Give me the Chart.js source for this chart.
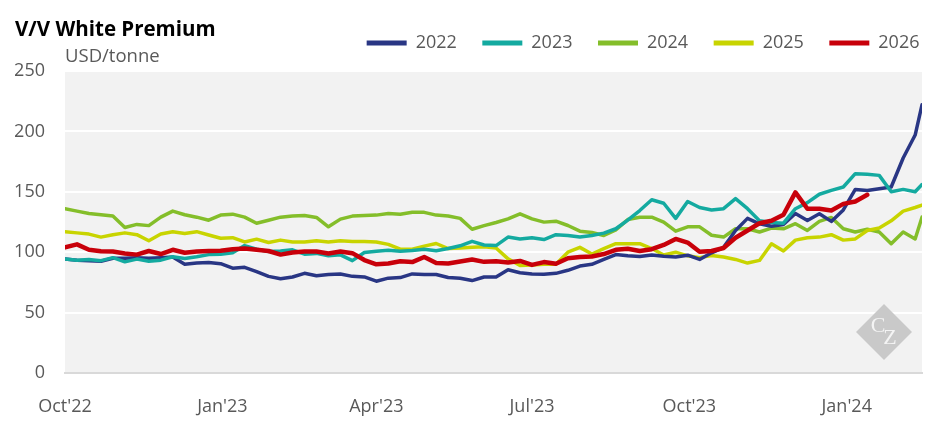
<!DOCTYPE html>
<html><head><meta charset="utf-8">
<script src="https://cdn.jsdelivr.net/npm/chart.js@4.4.1/dist/chart.umd.min.js"></script>
<style>html,body{margin:0;padding:0;background:#fff;}#wrap{width:945px;height:442px;}</style>
</head><body><div id="wrap"><canvas id="c" width="945" height="442"></canvas></div>
<script>
// Days since 1 Oct 2022 (weekly readings)
const days = [0,7,14,21,28,35,42,49,56,63,70,77,84,91,98,105,112,119,126,
  133,140,147,154,161,168,175,182,189,196,203,210,217,224,231,238,245,
  252,259,266,273,280,287,294,301,308,315,322,329,336,343,350,357,364,371,
  378,385,392,399,406,413,420,427,434,441,448,455,462,469,476,483,490,497,501];
const tickDays = [0, 92, 182, 273, 365, 457];
const tickLabels = ["Oct'22", "Jan'23", "Apr'23", "Jul'23", "Oct'23", "Jan'24"];
const seriesNames = ['2022', '2023', '2024', '2025', '2026'];

const s2022 = [94.3, 93.4, 93, 92.5, 95, 95, 95.5, 95, 95.5, 96, 90, 91, 91.5, 90.5, 86.8, 87.5, 84, 80, 78,
  79.5, 82.5, 80.5, 81.5, 82, 80, 79.5, 76, 78.5, 79, 82, 81.5, 81.5, 79, 78.5, 76.5, 79.5,
  79.5, 85.5, 83, 82, 81.8, 82.5, 85, 88.5, 90, 94, 98, 97, 96.5, 97.7, 96.6, 96, 97.5, 94,
  99.5, 104, 118, 128, 123.5, 121.5, 123, 132, 126.3, 131.8, 125.5, 135, 152, 151, 152.5, 154, 178, 197, 222];
const s2023 = [94.3, 93.4, 94, 93, 95.5, 92, 94.3, 92.5, 93.4, 96.2, 94.8, 96.2, 98, 98.3, 99.5, 105.5, 102.5, 100.5, 101,
  102, 98.4, 99, 97, 97.8, 93, 99.8, 100.8, 101.7, 100.8, 101.5, 102.5, 101.2, 103, 105.3, 109, 106,
  105.5, 112.5, 111, 112, 110.5, 114.5, 113.9, 112.5, 113.9, 115.8, 119.4, 126.5, 134.5, 143.4, 140.5, 128, 142, 137,
  135, 136, 144.3, 136, 126, 124.5, 124, 136, 141, 148, 151.2, 154, 165, 164.5, 163.6, 150, 152, 150, 156];
const s2024 = [136, 134, 132, 131, 130, 120.5, 123, 122, 129, 134, 131, 129, 126.5, 130.7, 131.5, 129, 124, 126.5, 129,
  130, 130.4, 128.8, 121, 127.4, 129.9, 130.4, 130.7, 132, 131.5, 133, 133, 130.7, 130, 128, 119, 122,
  124.6, 127.6, 131.8, 127.6, 124.9, 125.7, 122.1, 117.4, 116.3, 113.8, 118.5, 127, 129, 129, 124.9, 117.4, 121, 121,
  114, 112.5, 119.4, 119.4, 116.7, 120, 119.4, 123.6, 118, 125.5, 128.8, 119.4, 116.7, 119, 116.7, 107, 116.7, 111, 129];
const s2025 = [117, 116, 115, 112.5, 114.5, 116, 114.5, 109.5, 115, 117, 115.5, 117, 114.2, 111.6, 112, 108.5, 110.8, 108, 110,
  108.5, 108.5, 109.4, 108.5, 109.4, 108.9, 108.9, 108.5, 106.5, 102.5, 102.5, 105, 107.2, 103, 103.4, 104, 104.5,
  103.5, 94.5, 89, 89.5, 90, 90, 100, 104, 98.5, 103, 107, 107, 107, 103, 97.7, 100, 97, 95.5,
  97.3, 96, 94, 91, 93.2, 107, 101, 110, 112, 112.5, 114.5, 110, 111, 118, 120, 126, 134, 137, 139];
const s2026 = [104, 106.5, 102, 100.8, 100.5, 99, 98, 101, 98.5, 102, 99.5, 100.6, 101, 101.2, 102.5, 103, 102, 101, 98,
  99.8, 100.6, 100.5, 99, 100.5, 99.2, 93.5, 90, 90.7, 92.5, 91.8, 96, 91, 90.7, 92.3, 94, 92,
  92.5, 91.5, 92.8, 89.5, 91.8, 90.5, 95, 96, 96.5, 98.5, 102, 102.8, 101, 102.5, 106, 111, 108, 100.4,
  101, 103.5, 112, 118, 124, 126, 131, 149.5, 136, 136, 134.6, 140, 142, 147.5, null, null, null, null, null];

const seriesData = [s2022, s2023, s2024, s2025, s2026];
const colors = ['#293684', '#14aaa0', '#84be2a', '#c8d400', '#c8000a'];
const widths = [3.5, 3.5, 3.5, 3.5, 4.5];
const drawOrder = [2, 1, 4, 3, 0];

const FONT = "'Open Sans', 'Noto Sans', sans-serif";

const plotBg = {
  id: 'plotBg',
  beforeDraw(chart) {
    const {ctx, chartArea: a} = chart;
    ctx.save();
    ctx.fillStyle = '#f2f2f2';
    ctx.fillRect(a.left, a.top, a.right - a.left, a.bottom - a.top);
    ctx.restore();
  }
};
const watermark = {
  id: 'watermark',
  beforeDatasetsDraw(chart) {
    const {ctx, chartArea: a} = chart;
    const cx = a.right - 38, cy = a.bottom - 41, r = 28;
    ctx.save();
    ctx.fillStyle = '#c9c9c9';
    ctx.beginPath();
    ctx.moveTo(cx, cy - r); ctx.lineTo(cx + r, cy); ctx.lineTo(cx, cy + r); ctx.lineTo(cx - r, cy);
    ctx.closePath(); ctx.fill();
    ctx.fillStyle = '#f4f4f4';
    ctx.font = "22px 'Liberation Serif', serif";
    ctx.textAlign = 'center'; ctx.textBaseline = 'middle';
    ctx.fillText('C', cx - 6, cy - 6);
    ctx.fillText('Z', cx + 6, cy + 6);
    ctx.restore();
  }
};

new Chart(document.getElementById('c'), {
  type: 'line',
  data: {
    labels: days,
    datasets: seriesNames.map((name, k) => ({
      label: name,
      data: seriesData[k],
      borderColor: colors[k],
      backgroundColor: colors[k],
      borderWidth: widths[k],
      pointRadius: 0,
      pointHoverRadius: 0,
      tension: 0,
      borderJoinStyle: 'round',
      borderCapStyle: 'round',
      spanGaps: false,
      order: drawOrder[k]
    }))
  },
  options: {
    responsive: false,
    animation: false,
    devicePixelRatio: 1,
    layout: { padding: { left: 15, right: 0, top: 0, bottom: 0 } },
    plugins: {
      tooltip: { enabled: false },
      title: {
        display: true, text: 'V/V White Premium', align: 'start', color: '#000000',
        font: { family: FONT, size: 20.5, weight: 'bold' },
        padding: { top: 17.7, bottom: -33.8 }
      },
      legend: {
        display: true, position: 'top', align: 'end', weight: 1000,
        labels: {
          boxWidth: 40, boxHeight: 5, padding: 25.5, color: '#595959',
          font: { family: FONT, size: 18 },
          sort: (a, b) => a.datasetIndex - b.datasetIndex,
          generateLabels: (chart) => Chart.defaults.plugins.legend.labels.generateLabels(chart)
            .map(l => Object.assign(l, { lineWidth: 0 }))
        }
      },
      subtitle: {
        display: true, text: 'USD/tonne', align: 'start', fullSize: false, weight: 500,
        color: '#595959', font: { family: FONT, size: 18.5 },
        padding: { top: -16.3, bottom: 3.1 }
      }
    },
    scales: {
      x: {
        type: 'linear', min: 0, max: 501,
        grid: { display: false },
        border: { display: true, color: '#d9d9d9', width: 2 },
        ticks: {
          padding: 15, color: '#595959', font: { family: FONT, size: 18 },
          maxRotation: 0, autoSkip: false,
          callback: (v, i) => tickLabels[i]
        },
        afterBuildTicks: (s) => { s.ticks = tickDays.map(v => ({ value: v })); },
        afterFit: (s) => { s.height = 69; }
      },
      y: {
        min: 0, max: 250,
        ticks: { stepSize: 50, padding: 20, color: '#595959', font: { family: FONT, size: 18 } },
        grid: { color: '#ffffff', lineWidth: 2, drawTicks: false },
        border: { display: false },
        afterFit: (s) => { s.width = 50; }
      },
      y2: {
        position: 'right', display: true,
        grid: { display: false }, ticks: { display: false }, border: { display: false },
        afterFit: (s) => { s.width = 23; }
      }
    }
  },
  plugins: [plotBg, watermark]
});
</script></body></html>
